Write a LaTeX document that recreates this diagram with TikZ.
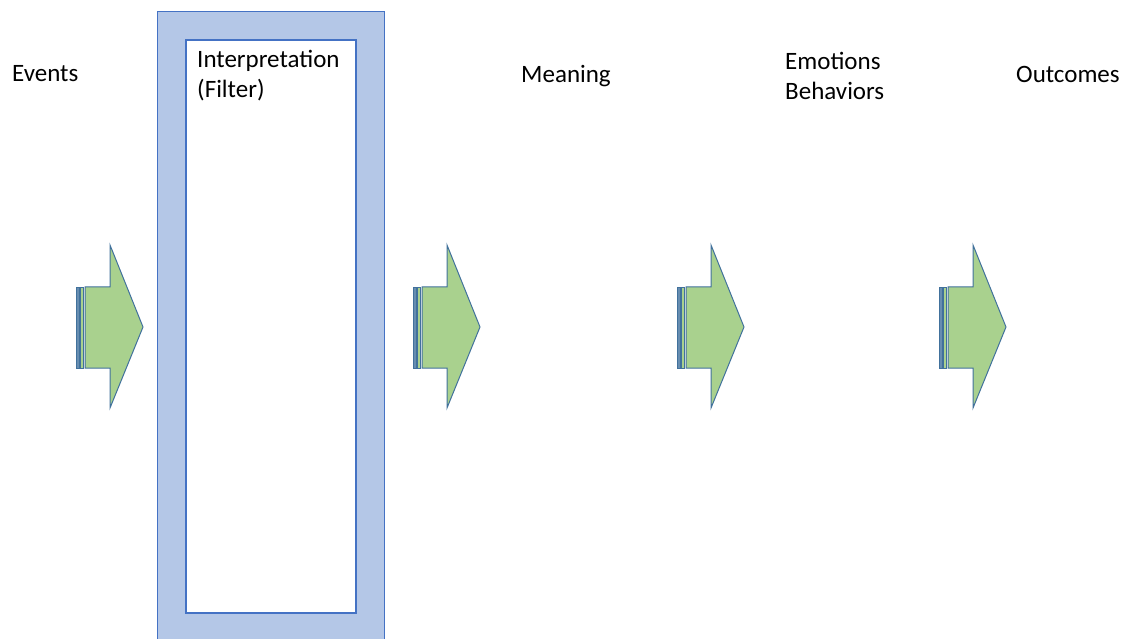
\documentclass[tikz,border=0pt]{standalone}
\usepackage{fontspec}
\setmainfont{Carlito}
\definecolor{framefill}{HTML}{B4C7E7}
\definecolor{frameline}{HTML}{4472C4}
\definecolor{arrowfill}{HTML}{A9D18E}
\definecolor{arrowline}{HTML}{41719C}
\tikzset{
  lbl/.style={inner sep=0pt, anchor=base west, align=left, font=\fontsize{25}{30}\selectfont},
  stripedarrow/.pic={
    \draw[arrowline, fill=arrowfill, line width=1pt, line join=miter]
      (85,287) -- (110,287) -- (110,245) -- (143,327) -- (110,408) -- (110,368) -- (85,368) -- cycle;
    \draw[arrowline, fill=arrowline!80, line width=0.8pt] (76,287) rectangle (79,368);
    \draw[arrowline, fill=arrowfill, line width=0.8pt] (80.5,287) rectangle (83,368);
  }
}
\begin{document}
\begin{tikzpicture}[x=1pt,y=-1pt]
\useasboundingbox (0,0) rectangle (1128,639);
\clip (0,0) rectangle (1128,639);
% filter frame
\draw[frameline, fill=framefill, line width=1pt] (157,12) rectangle (384,650);
\draw[frameline, fill=white, line width=1.5pt] (186,40) rectangle (356,613);
% arrows
\pic (a1) at (0,0) {stripedarrow};
\pic (a2) at (337,0) {stripedarrow};
\pic (a3) at (601,0) {stripedarrow};
\pic (a4) at (863,0) {stripedarrow};
% labels
\node[lbl] (events) at (12,82) {Events};
\node[lbl] (interp) at (197,98) {Interpretation\\(Filter)};
\node[lbl] (meaning) at (521,83) {Meaning};
\node[lbl] (emo) at (785,100) {Emotions\\Behaviors};
\node[lbl] (out) at (1016,83) {Outcomes};
\end{tikzpicture}
\end{document}
